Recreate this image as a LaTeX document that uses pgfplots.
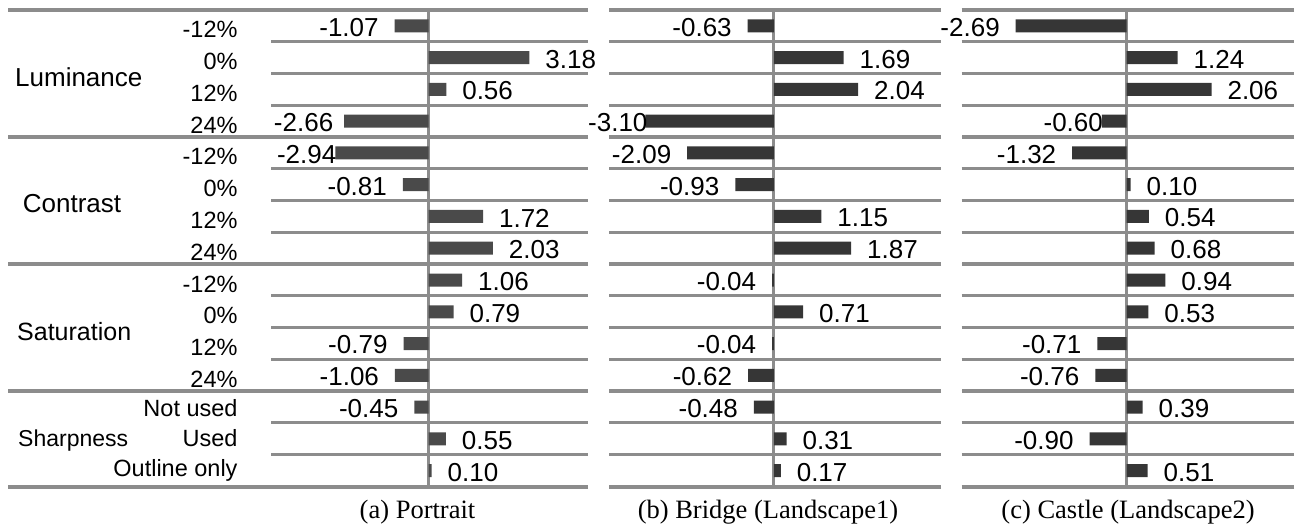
\documentclass[border=0pt]{standalone}
\usepackage{fontspec}
\setmainfont{Liberation Sans}
\newfontfamily\capfont{Liberation Serif}
\usepackage{pgfplots}
\usepackage{pgfplotstable}
\pgfplotsset{compat=1.18}
\definecolor{gridgray}{RGB}{140,140,140}
\definecolor{barA}{RGB}{74,74,74}
\definecolor{barB}{RGB}{54,54,54}

\pgfplotstableread{
r v l
0 -1.07 -1.07
1 3.18 3.18
2 0.56 0.56
3 -2.66 -2.66\kern-5pt
4 -2.94 -2.94\kern-17pt
5 -0.81 -0.81
6 1.72 1.72
7 2.03 2.03
8 1.06 1.06
9 0.79 0.79
10 -0.79 -0.79
11 -1.06 -1.06
12 -0.45 -0.45
13 0.55 0.55
14 0.10 0.10
}\tA

\pgfplotstableread{
r v l
0 -0.63 -0.63
1 1.69 1.69
2 2.04 2.04
3 -3.10 -3.10\kern-18pt
4 -2.09 -2.09
5 -0.93 -0.93
6 1.15 1.15
7 1.87 1.87
8 -0.04 -0.04
9 0.71 0.71
10 -0.04 -0.04
11 -0.62 -0.62
12 -0.48 -0.48
13 0.31 0.31
14 0.17 0.17
}\tB

\pgfplotstableread{
r v l
0 -2.69 -2.69
1 1.24 1.24
2 2.06 2.06
3 -0.60 -0.60\kern-17pt
4 -1.32 -1.32
5 0.10 0.10
6 0.54 0.54
7 0.68 0.68
8 0.94 0.94
9 0.53 0.53
10 -0.71 -0.71
11 -0.76 -0.76
12 0.39 0.39
13 -0.90 -0.90
14 0.51 0.51
}\tC

\tikzset{grp/.style={gridgray, line width=4pt}}

\pgfplotsset{
  panel/.style={
    scale only axis, anchor=south west, height=476.5pt,
    xbar, bar width=13pt,
    y dir=reverse, ymin=-0.5, ymax=14.5,
    ytick={0,...,14}, minor ytick={-0.5,0.5,...,14.5},
    yminorgrids=true, ymajorgrids=false,
    xtick={0}, xmajorgrids=true, xticklabels={},
    minor grid style={gridgray, line width=3pt},
    major grid style={gridgray, line width=3pt},
    axis line style={draw=none}, tick style={draw=none},
    clip=false,
    yticklabels={},
    point meta=explicit symbolic,
    nodes near coords,
    nodes near coords align=horizontal,
  },
  pos/.style={draw=none, fill=#1, bar shift=0pt, restrict x to domain=0:20,
    nodes near coords style={font=\fontsize{26}{30}\selectfont, anchor=west,
      inner xsep=16pt, inner ysep=0pt, outer sep=0pt, yshift=-1.5pt, text=black}},
  neg/.style={draw=none, fill=#1, bar shift=0pt, restrict x to domain=-20:0,
    nodes near coords style={font=\fontsize{26}{30}\selectfont, anchor=east,
      inner xsep=16pt, inner ysep=0pt, outer sep=0pt, yshift=-1.5pt, text=black}},
}

\begin{document}
\begin{tikzpicture}
\useasboundingbox (0,0) rectangle (1295pt,526pt);

% Panel (a)
\begin{axis}[panel, at={(271pt,39.5pt)}, width=317pt, xmin=-4.97, xmax=5.03,
  yticklabels={-12\%,0\%,12\%,24\%,-12\%,0\%,12\%,24\%,-12\%,0\%,12\%,24\%,\raisebox{2.5pt}{Not used},\raisebox{4.5pt}{Used},\raisebox{6.5pt}{Outline only}},
  yticklabel style={font=\fontsize{23.5}{27}\selectfont, anchor=base east, inner sep=0pt, xshift=-29pt, yshift=-12pt},
]
\addplot[pos=barA] table[x=v, y=r, meta=l] {\tA};
\addplot[neg=barA] table[x=v, y=r, meta=l] {\tA};
\draw[grp] (axis cs:5.03,-0.5) -- (axis cs:-13.27,-0.5);
\draw[grp] (axis cs:5.03,3.5) -- (axis cs:-13.27,3.5);
\draw[grp] (axis cs:5.03,7.5) -- (axis cs:-13.27,7.5);
\draw[grp] (axis cs:5.03,11.5) -- (axis cs:-13.27,11.5);
\draw[grp] (axis cs:5.03,14.5) -- (axis cs:-13.27,14.5);
\end{axis}

% Panel (b)
\begin{axis}[panel, at={(609pt,39.5pt)}, width=332pt, xmin=-3.98, xmax=4.04]
\addplot[pos=barB] table[x=v, y=r, meta=l] {\tB};
\addplot[neg=barB] table[x=v, y=r, meta=l] {\tB};
\draw[grp] (axis cs:4.04,-0.5) -- (axis cs:-3.98,-0.5);
\draw[grp] (axis cs:4.04,3.5) -- (axis cs:-3.98,3.5);
\draw[grp] (axis cs:4.04,7.5) -- (axis cs:-3.98,7.5);
\draw[grp] (axis cs:4.04,11.5) -- (axis cs:-3.98,11.5);
\draw[grp] (axis cs:4.04,14.5) -- (axis cs:-3.98,14.5);
\end{axis}

% Panel (c)
\begin{axis}[panel, at={(961.7pt,39.5pt)}, width=332.3pt, xmin=-4.0, xmax=4.06]
\addplot[pos=barB] table[x=v, y=r, meta=l] {\tC};
\addplot[neg=barB] table[x=v, y=r, meta=l] {\tC};
\draw[grp] (axis cs:4.06,-0.5) -- (axis cs:-4.0,-0.5);
\draw[grp] (axis cs:4.06,3.5) -- (axis cs:-4.0,3.5);
\draw[grp] (axis cs:4.06,7.5) -- (axis cs:-4.0,7.5);
\draw[grp] (axis cs:4.06,11.5) -- (axis cs:-4.0,11.5);
\draw[grp] (axis cs:4.06,14.5) -- (axis cs:-4.0,14.5);
\end{axis}

% group labels
\node[anchor=base west, inner sep=0pt, font=\fontsize{26}{30}\selectfont] at (15pt,439pt) {Luminance};
\node[anchor=base west, inner sep=0pt, font=\fontsize{26}{30}\selectfont] at (22.7pt,313pt) {Contrast};
\node[anchor=base west, inner sep=0pt, font=\fontsize{25}{30}\selectfont] at (17pt,185.5pt) {Saturation};
\node[anchor=base west, inner sep=0pt, font=\fontsize{23}{27}\selectfont] at (18pt,79.5pt) {Sharpness};

% captions
\node[anchor=base, inner sep=0pt, font=\capfont\fontsize{26.5}{30}\selectfont] at (417.5pt,7.5pt) {(a) Portrait};
\node[anchor=base, inner sep=0pt, font=\capfont\fontsize{26.5}{30}\selectfont] at (768pt,7.5pt) {(b) Bridge (Landscape1)};
\node[anchor=base, inner sep=0pt, font=\capfont\fontsize{26.5}{30}\selectfont] at (1128pt,7.5pt) {(c) Castle (Landscape2)};
\end{tikzpicture}
\end{document}
